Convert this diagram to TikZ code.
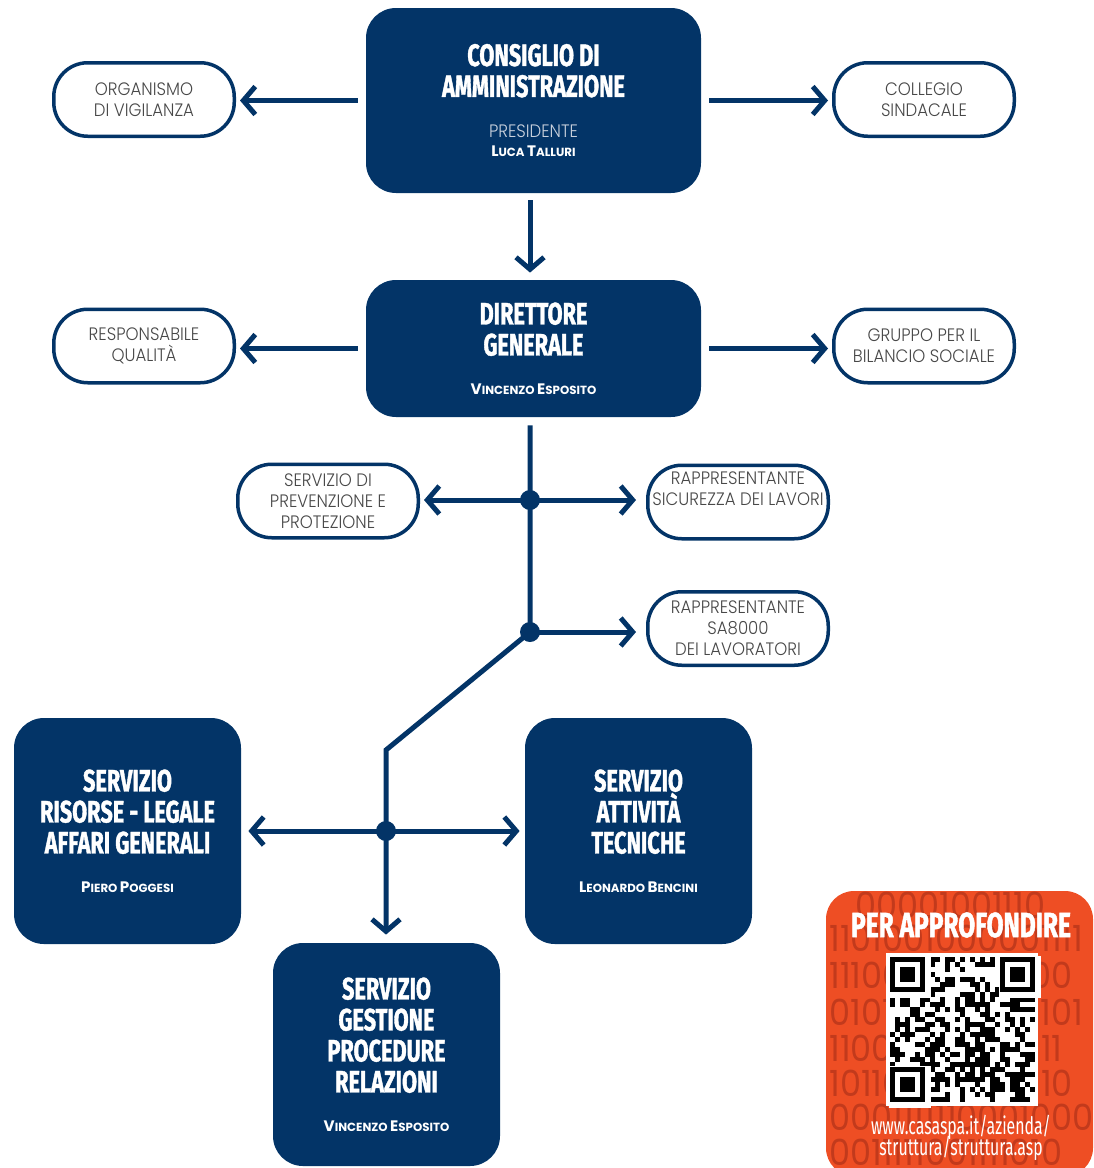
\documentclass[tikz,border=0pt]{standalone}
\usepackage{fontspec}
\usepackage{tikz}
\usetikzlibrary{arrows.meta,positioning}
\setmainfont{Poppins}
\newfontfamily\titlefont[FakeStretch=0.7,BoldFeatures={FakeBold=1.2}]{Fira Sans}
\newfontfamily\lightfont[FakeStretch=0.92]{Poppins Light}
\newfontfamily\urlfont[FakeStretch=0.66]{Fira Sans}
\newfontfamily\digitfont[FakeStretch=0.93]{Poppins}
\definecolor{casablue}{HTML}{033467}
\definecolor{casagray}{HTML}{484848}
\definecolor{casapale}{HTML}{C9D1DD}
\definecolor{casaorange}{HTML}{EE4E24}
\definecolor{casadigit}{HTML}{C23A1C}
\tikzstyle{link} = [draw=casablue, -{Straight Barb[length=6pt,width=14pt]}, line width=2.5pt]
\newcommand{\tit}[1]{{\titlefont\bfseries #1}}
\newcommand{\fsc}[2]{{\fontsize{7.6}{7.6}\selectfont#1}{\fontsize{5.9}{5.9}\selectfont#2}}
\newcommand{\nome}[1]{{\bfseries\fontsize{5.9}{15.5}\selectfont #1}}

\begin{document}
\begin{tikzpicture}[x=0.5pt,y=-0.5pt,
  dark/.style={fill=casablue, rounded corners=15pt, inner sep=0pt, text=white, align=center, font=\fontsize{15.5}{15.5}\selectfont},
  light/.style={draw=casablue, line width=1.75pt, fill=white, rounded corners=17pt, minimum width=90.25pt, minimum height=36.75pt, inner sep=0pt, text=casagray, align=center, font=\lightfont\fontsize{9}{10.5}\selectfont},
  digits/.style={text=casadigit, font=\digitfont\fontsize{18}{18}\selectfont, inner sep=0pt, anchor=west},
  dot/.style={fill=casablue}]

    \useasboundingbox (0,0) rectangle (1093,1168);

    % vertici
    \node [dark, minimum width=167.5pt, minimum height=92.5pt] (cda) at (533.5,100.5)
      {\tit{CONSIGLIO DI}\\\tit{AMMINISTRAZIONE}\\[5pt]
       {\lightfont\fontsize{9}{9}\selectfont\color{casapale}PRESIDENTE}\\[-6pt]
       \nome{\fsc{L}{UCA} \fsc{T}{ALLURI}}};
    \node [dark, minimum width=167.5pt, minimum height=68.5pt] (dg) at (533.5,348.5)
      {\tit{DIRETTORE}\\\tit{GENERALE}\\[4pt]
       \nome{\fsc{V}{INCENZO} \fsc{E}{SPOSITO}}};

    \node [light] (odv) at (144,99.5) {ORGANISMO\\DI VIGILANZA};
    \node [light] (cs) at (924,99.5) {COLLEGIO\\SINDACALE};
    \node [light] (rq) at (144,346) {RESPONSABILE\\QUALITÀ};
    \node [light] (gbs) at (924,346) {GRUPPO PER IL\\BILANCIO SOCIALE};
    \node [light] (spp) at (328,501) {SERVIZIO DI\\PREVENZIONE E\\PROTEZIONE};
    \node [light] (rsl) at (738,502) {RAPPRESENTANTE\\SICUREZZA DEI LAVORI\\\strut};
    \node [light] (rsa) at (738,628.5) {RAPPRESENTANTE\\SA8000\\DEI LAVORATORI};

    % servizi
    \node [dark, minimum width=113.5pt, minimum height=113pt] (srl) at (127.5,831)
      {\tit{SERVIZIO}\\\tit{RISORSE - LEGALE}\\\tit{AFFARI GENERALI}\\[4pt]
       \nome{\fsc{P}{IERO} \fsc{P}{OGGESI}}};
    \node [dark, minimum width=113.5pt, minimum height=113pt] (sat) at (638.5,831)
      {\tit{SERVIZIO}\\\tit{ATTIVITÀ}\\\tit{TECNICHE}\\[4pt]
       \nome{\fsc{L}{EONARDO} \fsc{B}{ENCINI}}};
    \node [dark, minimum width=113.5pt, minimum height=111.5pt] (sgp) at (386.5,1054.5)
      {\tit{SERVIZIO}\\\tit{GESTIONE}\\\tit{PROCEDURE}\\\tit{RELAZIONI}\\[4pt]
       \nome{\fsc{V}{INCENZO} \fsc{E}{SPOSITO}}};

    \coordinate (j1) at (530,500);
    \coordinate (j2) at (530,632);
    \coordinate (k) at (386,750);
    \coordinate (j3) at (386,831);

    \draw [link, shorten <=4pt, shorten >=2pt] (cda.west) -- (cda.west -| odv.east);
    \draw [link, shorten <=4pt, shorten >=2pt] (cda.east) -- (cda.east -| cs.west);
    \draw [link, shorten <=3.5pt, shorten >=3.5pt] (cda.south -| j1) -- (dg.north -| j1);
    \draw [link, shorten <=4pt, shorten >=2pt] (dg.west) -- (dg.west -| rq.east);
    \draw [link, shorten <=4pt, shorten >=2pt] (dg.east) -- (dg.east -| gbs.west);

    \draw [link, shorten <=4pt, shorten >=4pt] (dg.south -| j1) -- (j1) -- (j2) -- (k) -- (j3) -- (j3 |- sgp.north);
    \draw [link, shorten >=2pt] (j1) -- (j1 -| spp.east);
    \draw [link, shorten >=5pt] (j1) -- (j1 -| rsl.west);
    \draw [link, shorten >=5pt] (j2) -- (j2 -| rsa.west);
    \draw [link, shorten >=3.5pt] (j3) -- (j3 -| srl.east);
    \draw [link, shorten >=2.5pt] (j3) -- (j3 -| sat.west);

    \foreach \j in {j1,j2,j3}
      \fill [dot] (\j) circle (5pt);

    % per approfondire
    \fill [casaorange, rounded corners=14pt] (826,891) rectangle (1093,1176);
    \begin{scope}
      \clip [rounded corners=14pt] (826,891) rectangle (1093,1176);
      \foreach \bx/\by/\bits [count=\n] in {855/905/00001001110, 829/938/1101001000001111,
          829/975/1110010011011100, 829/1012/0101101001100101, 829/1048/1100110100110111,
          829/1083/1011010011100110, 829/1117/0001111110001000, 829/1152/0011111001111010}
        \node [digits] (b\n) at (\bx,\by) {\bits};
    \end{scope}

    \fill [white] (886,953) rectangle (1038,1106);
    \pgfmathsetseed{42}
    \foreach \i in {0,...,28}
      \foreach \j in {0,...,28} {
        \pgfmathrandominteger{\q}{0}{1}
        \ifnum\q=1 \fill ({889.5+\i*5},{956.5+\j*5}) rectangle ++(5,5); \fi
      }
    \foreach \fx/\fy in {0/0,22/0,0/22} {
      \fill [white] ({889.5+\fx*5-1},{956.5+\fy*5-1}) rectangle ++(42,42);
      \fill [black] ({889.5+\fx*5},{956.5+\fy*5}) rectangle ++(35,35);
      \fill [white] ({889.5+(\fx+1)*5},{956.5+(\fy+1)*5}) rectangle ++(25,25);
      \fill [black] ({889.5+(\fx+2)*5},{956.5+(\fy+2)*5}) rectangle ++(15,15);
    }

    \node [text=white, font=\titlefont\bfseries\fontsize{17.5}{17.5}\selectfont] (pa) at (961,925) {PER APPROFONDIRE};
    \node [text=white, align=center, font=\urlfont\fontsize{12}{11}\selectfont] (url) at (961,1138)
      {www.casaspa.it/azienda/\\[-3pt]struttura/struttura.asp};

\end{tikzpicture}
\end{document}
